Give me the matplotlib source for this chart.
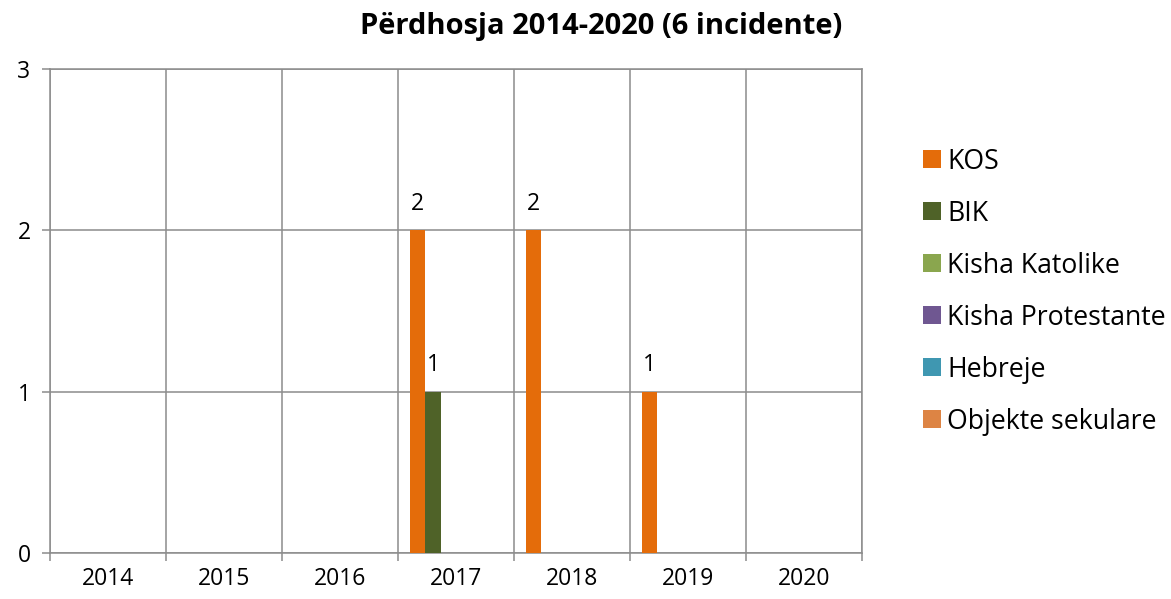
import numpy as np
import matplotlib.pyplot as plt
from matplotlib.ticker import FixedLocator

# ===============================
# DATA
# ===============================
years = ["2014", "2015", "2016", "2017", "2018", "2019", "2020"]
series_names = ["KOS", "BIK", "Kisha Katolike", "Kisha Protestante", "Hebreje", "Objekte sekulare"]
kos = [0, 0, 0, 2, 2, 1, 0]
bik = [0, 0, 0, 1, 0, 0, 0]
katolike = [0, 0, 0, 0, 0, 0, 0]
protestante = [0, 0, 0, 0, 0, 0, 0]
hebreje = [0, 0, 0, 0, 0, 0, 0]
sekulare = [0, 0, 0, 0, 0, 0, 0]
colors = ["#E46C0A", "#4F6228", "#8AA64E", "#6F5791", "#3F97B1", "#DD8444"]

plt.rcParams['font.family'] = ['Open Sans', 'DejaVu Sans']

# ===============================
# PLOT
# ===============================
fig = plt.figure(figsize=(11.71, 5.99), dpi=100)
ax = fig.add_axes([0.0427, 0.0768, 0.6934, 0.808])

grid_color = "#8C8C8C"
x = np.arange(len(years))
bar_w = 0.132
all_series = [kos, bik, katolike, protestante, hebreje, sekulare]

for i, (name, vals, col) in enumerate(zip(series_names, all_series, colors)):
    offset = (i - 2.5) * bar_w
    bars = ax.bar(x + offset, vals, width=bar_w, color=col, label=name, zorder=3)
    for b, v in zip(bars, vals):
        if v > 0:
            ax.text(b.get_x() + b.get_width() / 2, v + 0.09, str(v),
                    ha='center', va='bottom', fontsize=16.5, color='black')

ax.set_xlim(-0.5, len(years) - 0.5)
ax.set_ylim(0, 3)
ax.set_yticks([0, 1, 2, 3])
ax.set_xticks(x)
ax.set_xticklabels(years)
ax.xaxis.set_minor_locator(FixedLocator(np.arange(-0.5, len(years), 1)))

ax.grid(axis='y', which='major', color=grid_color, linewidth=1.1, zorder=0)
ax.grid(axis='x', which='minor', color=grid_color, linewidth=1.1, zorder=0)

ax.tick_params(axis='x', which='major', length=0, labelsize=16.5, pad=10)
ax.tick_params(axis='x', which='minor', length=6, width=1.1, color=grid_color, direction='out')
ax.tick_params(axis='y', which='major', length=6, width=1.1, color=grid_color,
               direction='out', labelsize=16.5, pad=8)

for side in ['left', 'bottom', 'top', 'right']:
    ax.spines[side].set_color(grid_color)
    ax.spines[side].set_linewidth(1.1)

fig.suptitle("Përdhosja 2014-2020 (6 incidente)", x=0.513, y=0.98,
             fontsize=21, fontweight='bold')

ax.legend(loc='center left', bbox_to_anchor=(0.768, 0.513), bbox_transform=fig.transFigure,
          frameon=False, fontsize=19.2, labelspacing=0.9, handlelength=0.65,
          handleheight=0.65, handletextpad=0.25)

fig.savefig("out.png", dpi=100)
